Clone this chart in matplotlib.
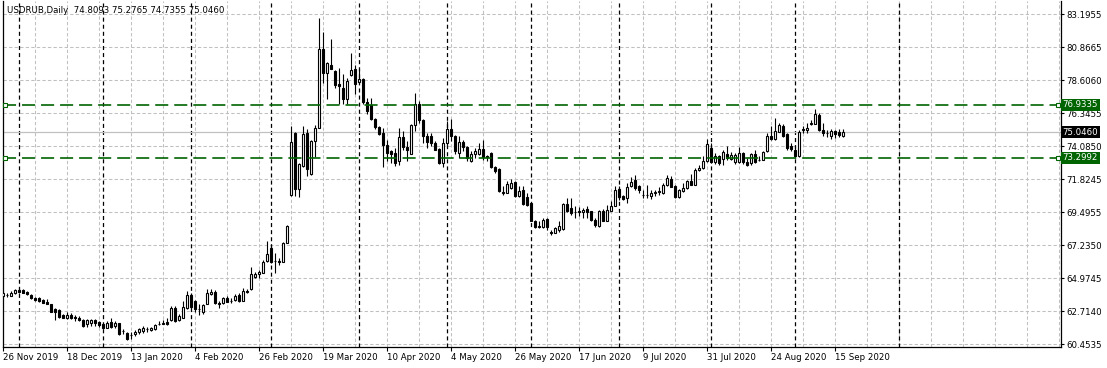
import numpy as np
import pandas as pd
import matplotlib
matplotlib.use('Agg')
import matplotlib.pyplot as plt
import matplotlib.transforms as mtransforms

symbol = 'USDRUB,Daily'

# daily OHLC, 26 Nov 2019 .. 17 Sep 2020
opens = [63.79, 63.87, 63.79, 63.97, 64.20, 64.18, 64.06, 63.86, 63.63, 63.67,
         63.51, 63.37, 63.21, 62.87, 62.82, 62.45, 62.25, 62.45, 62.30, 62.25,
         62.11, 61.83, 61.95, 62.13, 61.99, 61.88, 61.60, 62.02, 61.72, 61.90,
         61.38, 61.26, 61.12, 61.14, 61.33, 61.37, 61.48, 61.42, 61.49, 61.82,
         61.88, 61.99, 62.13, 62.98, 62.11, 62.29, 62.94, 63.86, 63.44, 62.88,
         62.71, 63.26, 63.95, 64.03, 63.28, 63.27, 63.66, 63.46, 63.50, 63.84,
         63.45, 64.10, 64.23, 65.11, 65.27, 65.38, 66.19, 67.07, 66.20, 66.16,
         66.15, 67.46, 70.71, 75.02, 71.17, 72.71, 74.97, 72.21, 74.44, 75.36,
         80.82, 79.12, 79.67, 79.28, 78.40, 78.13, 77.32, 79.00, 79.39, 78.54,
         78.70, 77.16, 76.93, 75.94, 75.43, 75.02, 74.21, 73.75, 73.63, 73.06,
         74.74, 74.05, 73.56, 75.52, 77.00, 75.89, 74.83, 74.83, 74.32, 73.91,
         72.94, 74.28, 75.29, 74.83, 73.63, 74.39, 74.05, 73.06, 73.59, 73.59,
         73.91, 73.45, 73.63, 72.67, 72.55, 70.92, 70.87, 71.21, 71.65, 70.68,
         71.05, 70.59, 70.18, 68.91, 68.57, 68.52, 69.07, 68.16, 68.15, 68.33,
         68.38, 70.11, 69.83, 69.56, 69.61, 69.53, 69.79, 69.60, 69.03, 68.61,
         69.65, 68.96, 69.65, 69.99, 71.17, 70.68, 70.52, 71.33, 71.79, 71.38,
         70.76, 70.74, 70.64, 70.90, 70.97, 70.87, 71.45, 71.86, 71.38, 70.59,
         70.98, 71.21, 71.67, 71.45, 72.48, 72.60, 73.06, 73.98, 72.99, 73.45,
         73.22, 73.56, 73.24, 72.99, 72.99, 73.63, 72.99, 72.94, 73.56, 73.14,
         73.17, 73.75, 74.79, 74.56, 75.09, 75.48, 74.90, 74.14, 73.86, 73.40,
         75.24, 75.20, 75.65, 75.64, 76.24, 75.20, 75.03, 74.83, 75.13, 75.09,
         74.8093]
highs = [64.13, 64.02, 64.09, 64.29, 64.36, 64.25, 64.13, 63.95, 63.72, 63.74,
         63.56, 63.56, 63.26, 62.94, 62.87, 62.57, 62.71, 62.64, 62.48, 62.41,
         62.18, 62.22, 62.22, 62.22, 62.06, 61.95, 62.06, 62.29, 62.06, 61.95,
         61.49, 61.33, 61.30, 61.42, 61.60, 61.72, 61.65, 61.65, 61.88, 62.06,
         62.11, 62.29, 63.10, 63.10, 62.52, 63.44, 64.09, 64.02, 63.49, 63.21,
         63.21, 64.25, 64.25, 64.19, 63.43, 63.73, 63.77, 63.61, 63.89, 63.96,
         64.30, 64.26, 65.80, 65.45, 65.57, 66.26, 67.57, 67.34, 66.72, 66.38,
         67.53, 68.64, 75.48, 75.09, 72.94, 75.48, 75.25, 74.49, 75.52, 82.92,
         81.93, 79.90, 81.47, 79.33, 79.46, 79.05, 78.82, 80.48, 79.69, 79.39,
         78.77, 77.44, 77.39, 76.05, 75.48, 75.36, 74.49, 73.86, 73.98, 75.36,
         75.13, 74.44, 75.59, 77.74, 77.20, 75.98, 74.97, 74.97, 74.44, 73.98,
         74.67, 75.82, 75.98, 74.85, 74.78, 74.55, 74.09, 73.75, 73.98, 74.32,
         74.55, 73.52, 73.68, 72.71, 72.60, 71.33, 71.67, 71.83, 71.67, 71.33,
         71.33, 70.87, 70.20, 69.03, 68.91, 69.14, 69.14, 68.33, 68.56, 68.91,
         70.18, 70.52, 70.52, 69.99, 69.90, 69.83, 69.95, 69.62, 69.14, 69.72,
         69.76, 70.06, 70.29, 71.33, 71.33, 70.75, 71.56, 71.97, 72.10, 71.45,
         71.10, 71.45, 71.10, 71.10, 71.28, 71.56, 72.14, 72.02, 71.40, 71.14,
         71.56, 71.79, 72.20, 72.60, 72.83, 73.40, 74.60, 74.32, 73.63, 73.52,
         73.86, 74.09, 73.68, 73.63, 74.03, 73.68, 73.29, 73.63, 73.86, 73.45,
         73.75, 75.02, 75.48, 76.05, 75.66, 75.59, 75.02, 74.32, 74.21, 75.20,
         75.48, 75.71, 75.89, 76.63, 76.40, 75.66, 75.20, 75.25, 75.20, 75.25,
         75.2765]
lows = [63.72, 63.72, 63.77, 63.90, 64.02, 63.97, 63.86, 63.58, 63.44, 63.40,
        63.28, 63.21, 62.66, 62.13, 62.29, 62.25, 62.20, 62.18, 62.06, 62.06,
        61.65, 61.65, 61.72, 61.72, 61.65, 61.49, 61.56, 61.60, 61.60, 61.10,
        61.14, 60.78, 60.81, 61.03, 61.14, 61.26, 61.33, 61.37, 61.44, 61.79,
        61.83, 61.79, 62.06, 62.02, 62.06, 62.25, 62.87, 62.98, 62.71, 62.48,
        62.52, 63.21, 63.85, 63.20, 62.92, 63.20, 63.34, 63.27, 63.43, 63.38,
        63.43, 63.96, 64.19, 65.00, 65.00, 65.34, 66.15, 66.03, 65.34, 65.92,
        66.10, 67.41, 70.64, 70.64, 70.57, 72.67, 72.02, 72.14, 73.36, 75.32,
        78.47, 77.32, 79.39, 78.13, 77.02, 77.02, 77.02, 78.93, 77.71, 78.47,
        77.02, 76.28, 75.87, 75.25, 74.85, 72.67, 73.06, 72.94, 72.71, 72.78,
        73.86, 73.06, 73.56, 75.13, 75.71, 74.28, 73.98, 74.09, 73.82, 72.90,
        72.67, 74.21, 74.44, 73.59, 73.29, 73.75, 73.06, 73.04, 73.29, 73.52,
        73.17, 73.06, 72.60, 72.25, 70.91, 70.75, 70.85, 71.14, 70.62, 70.59,
        70.06, 69.95, 68.91, 68.45, 68.45, 68.45, 68.33, 67.99, 68.10, 68.22,
        68.33, 69.53, 69.37, 69.14, 69.26, 69.14, 69.14, 68.91, 68.56, 68.56,
        68.91, 68.91, 69.60, 69.95, 70.41, 70.41, 70.18, 71.28, 71.10, 70.87,
        70.52, 70.52, 70.45, 70.68, 70.75, 70.82, 71.38, 71.26, 70.52, 70.52,
        70.91, 71.14, 71.43, 71.43, 72.37, 72.55, 72.99, 72.97, 72.90, 72.83,
        72.83, 73.17, 73.13, 72.90, 72.94, 72.90, 72.71, 72.83, 72.94, 73.06,
        73.13, 73.70, 74.51, 74.51, 75.04, 74.74, 73.86, 73.75, 73.29, 73.36,
        75.02, 75.02, 75.52, 75.59, 75.13, 74.79, 74.74, 74.60, 74.67, 74.74,
        74.7355]
closes = [64.02, 63.85, 64.02, 64.20, 64.06, 64.02, 63.90, 63.63, 63.51, 63.44,
          63.33, 63.26, 62.71, 62.71, 62.34, 62.29, 62.48, 62.25, 62.28, 62.11,
          61.72, 62.13, 62.15, 61.90, 61.76, 61.56, 61.95, 61.65, 61.90, 61.14,
          61.37, 60.84, 61.10, 61.30, 61.49, 61.56, 61.50, 61.60, 61.81, 61.84,
          61.91, 61.83, 62.94, 62.06, 62.41, 63.03, 63.86, 63.03, 62.87, 62.86,
          63.17, 64.02, 64.07, 63.27, 63.26, 63.61, 63.38, 63.44, 63.80, 63.43,
          64.12, 64.07, 65.27, 65.27, 65.45, 66.15, 66.65, 66.10, 66.18, 66.14,
          67.46, 68.57, 74.40, 71.15, 72.87, 74.90, 72.55, 74.44, 75.36, 80.82,
          79.12, 79.85, 79.44, 78.29, 78.24, 77.32, 78.59, 79.33, 78.36, 78.70,
          77.16, 76.51, 75.94, 75.41, 74.90, 74.21, 73.63, 73.56, 72.94, 74.74,
          74.05, 73.86, 75.52, 77.02, 75.88, 74.83, 74.37, 74.32, 73.86, 72.94,
          74.28, 75.29, 74.78, 73.75, 74.39, 74.05, 73.29, 73.56, 73.75, 73.91,
          73.35, 73.35, 72.67, 72.37, 70.98, 70.90, 71.49, 71.56, 70.64, 70.98,
          70.11, 70.06, 68.96, 68.56, 68.55, 69.03, 68.56, 68.14, 68.45, 68.61,
          70.11, 69.60, 69.49, 69.54, 69.59, 69.72, 69.53, 69.03, 68.68, 69.60,
          68.96, 69.67, 69.99, 71.10, 70.59, 70.45, 71.28, 71.61, 71.21, 71.10,
          70.74, 70.76, 70.87, 70.92, 70.99, 71.45, 71.91, 71.28, 70.59, 71.05,
          71.21, 71.67, 71.45, 72.48, 72.60, 73.06, 74.26, 72.99, 73.45, 72.94,
          73.70, 73.29, 73.52, 73.52, 73.63, 72.99, 72.83, 73.56, 72.99, 73.12,
          73.70, 74.79, 74.56, 75.13, 75.52, 74.83, 73.98, 73.91, 73.45, 75.09,
          75.26, 75.36, 75.67, 76.28, 75.20, 75.02, 75.01, 75.13, 74.90, 74.85,
          75.0460]

price_labels = ['60.4535', '62.7140', '64.9745', '67.2350', '69.4955', '71.8245',
                '74.0850', '76.3455', '78.6060', '80.8665', '83.1955']
level_hi = 76.9335
level_lo = 73.2992

dates = pd.bdate_range('2019-11-26', '2020-09-17')
dates = dates.drop(pd.to_datetime(['2019-12-25', '2020-01-01']))

W, H = 1107, 368
plt.rcParams['lines.scale_dashes'] = False
fig = plt.figure(figsize=(W / 100, H / 100), dpi=100)
fig.patch.set_facecolor('white')
ax = fig.add_axes([2.7 / W, (H - 346.7) / H, (1061 - 2.7) / W, (346.7 - 0.5) / H])
ax.set_xlim(-0.15, 264.4)
ax.set_ylim(60.289, 84.125)

o = np.array(opens)
h = np.array(highs)
l = np.array(lows)
c = np.array(closes)
x = np.arange(len(c))
up = c >= o

# grid
yt = np.linspace(60.4535, 83.1955, len(price_labels))
for v in yt:
    ax.axhline(v, color='#c0c0c0', lw=0.75, ls=(0, (2.4, 1.6)), zorder=1)
for v in range(8, 265, 8):
    ax.axvline(v, color='#c0c0c0', lw=0.75, ls=(0, (2.4, 1.6)), zorder=1)

# month separators
month = dates.to_period('M')
seps = [i for i in range(1, len(dates)) if month[i] != month[i - 1]]
seps.append(224)
for s in seps:
    ax.axvline(s, color='black', lw=0.9, ls=(0, (2.9, 2.2)), zorder=1.5)

# bid line
ax.axhline(c[-1], color='#c0c0c0', lw=0.9, zorder=2)

# candles
ax.vlines(x, l, h, color='black', lw=0.8, zorder=3)
ax.bar(x[up], c[up] - o[up], bottom=o[up], width=0.55, color='white',
       edgecolor='black', linewidth=0.8, zorder=4)
ax.bar(x[~up], o[~up] - c[~up], bottom=c[~up], width=0.55, color='black',
       edgecolor='black', linewidth=0.8, zorder=4)

# horizontal levels
green = '#006400'
for lv in (level_hi, level_lo):
    ax.axhline(lv, color=green, lw=1.2, ls=(0, (9.4, 4.3)), zorder=5)
    ax.plot([0.4, 263.7], [lv, lv], ls='none', marker='s', ms=3.2,
            mfc='white', mec=green, mew=0.8, zorder=6, clip_on=False)

# axes styling
for sp in ax.spines.values():
    sp.set_color('black')
    sp.set_linewidth(0.9)
ax.spines['top'].set_visible(False)
ax.yaxis.tick_right()
ax.set_yticks(yt)
ax.set_yticklabels(price_labels)
ax.tick_params(axis='y', length=2.2, width=0.8, pad=1.6, labelsize=6.2)

xt = list(range(0, len(dates), 16))
ax.set_xticks(xt)
ax.set_xticklabels([f"{dates[i].day} {dates[i]:%b %Y}" for i in xt], ha='left')
ax.tick_params(axis='x', length=2.9, width=0.8, pad=1.5, labelsize=6.2)

# price boxes on the right scale
tr = mtransforms.blended_transform_factory(ax.transAxes, ax.transData)
for val, col in ((level_hi, green), (c[-1], 'black'), (level_lo, green)):
    ax.text(1.0015, val, f"{val:.4f}", transform=tr, ha='left', va='center',
            color='white', fontsize=6.2, zorder=10,
            bbox=dict(boxstyle='square,pad=0.18', fc=col, ec='none'))

fig.text(7 / W, 1 - 10.5 / H,
         f"{symbol}  {o[-1]:.4f} {h[-1]:.4f} {l[-1]:.4f} {c[-1]:.4f}",
         fontsize=6.2, va='center', ha='left')

fig.savefig('out.png', dpi=100, facecolor='white')
